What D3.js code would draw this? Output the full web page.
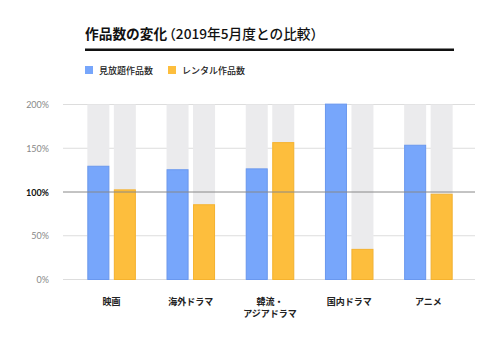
<!DOCTYPE html>
<html>
<head>
<meta charset="utf-8">
<script src="https://cdn.jsdelivr.net/npm/d3@7"></script>
<style>
  body { margin: 0; background: #fff; }
  svg { display: block; font-family: "Noto Sans CJK JP", "Noto Sans", sans-serif; }
</style>
</head>
<body>
<svg id="chart" width="500" height="344"></svg>
<script>
// --- data ---
const categories = ['映画', '海外ドラマ', '韓流・\nアジアドラマ', '国内ドラマ', 'アニメ'];
const seriesNames = ['見放題作品数', 'レンタル作品数'];
const unlimitedValues = [130, 126, 127, 201, 154];
const rentalValues = [103, 86, 157, 35, 98];
const yTicks = [0, 50, 100, 150, 200];
const colors = ['#77a6fb', '#fdbe3d'];
const strokes = ['#6a98ee', '#f5b22e'];

const svg = d3.select('#chart');

// scales
const x = d3.scaleBand().domain(categories).range([72, 468]);
const y = d3.scaleLinear().domain([0, 200]).range([279.5, 104.5]);
const barW = 22, gap = 4.5;

// title
const title = svg.append('text')
  .attr('x', 85).attr('y', 38.5)
  .attr('font-size', 13.7).attr('fill', '#111');
title.append('tspan').attr('font-weight', 700).text('作品数の変化');
title.append('tspan').attr('font-weight', 500).attr('dx', -5).text('（2019年5月度との比較）');

svg.append('rect')
  .attr('x', 85).attr('y', 48.5).attr('width', 369).attr('height', 2.5)
  .attr('fill', '#111');

// legend
const legend = svg.append('g');
[85, 168].forEach((lx, i) => {
  legend.append('rect')
    .attr('x', lx).attr('y', 66).attr('width', 8).attr('height', 8)
    .attr('fill', colors[i]);
  legend.append('text')
    .attr('x', lx + 14).attr('y', 73.5)
    .attr('font-size', 9).attr('font-weight', 500).attr('fill', '#222')
    .text(seriesNames[i]);
});

// gridlines + y labels
const grid = svg.append('g');
yTicks.forEach(t => {
  if (t === 100) return;
  grid.append('line')
    .attr('x1', 63).attr('x2', 475)
    .attr('y1', y(t)).attr('y2', y(t))
    .attr('stroke', '#ddd').attr('stroke-width', 1);
});
svg.append('g').selectAll('text').data(yTicks).join('text')
  .attr('x', 49).attr('y', d => y(d) + 3.5)
  .attr('text-anchor', 'end')
  .attr('font-size', 9)
  .attr('font-family', 'Lato, "Noto Sans", sans-serif')
  .attr('font-weight', d => d === 100 ? 700 : 400)
  .attr('fill', d => d === 100 ? '#111' : '#888')
  .text(d => d + '%');

// bars
const rows = categories.map((c, i) => ({ cat: c, vals: [unlimitedValues[i], rentalValues[i]] }));
const groups = svg.append('g').selectAll('g').data(rows).join('g')
  .attr('transform', d => `translate(${x(d.cat) + x.bandwidth() / 2},0)`);

[0, 1].forEach(s => {
  const bx = s === 0 ? -barW - gap / 2 : gap / 2;
  groups.append('rect')
    .attr('x', bx).attr('width', barW)
    .attr('y', y(200)).attr('height', y(0) - y(200))
    .attr('fill', '#ebebed');
  groups.append('rect')
    .attr('x', bx + 0.5).attr('width', barW - 1)
    .attr('y', d => y(d.vals[s]) + 0.5)
    .attr('height', d => y(0) - y(d.vals[s]) - 0.5)
    .attr('fill', colors[s])
    .attr('stroke', strokes[s]).attr('stroke-width', 1);
});

// 100% line over the bars
svg.append('line')
  .attr('x1', 63).attr('x2', 475)
  .attr('y1', y(100)).attr('y2', y(100))
  .attr('stroke', '#888').attr('stroke-width', 1);

// x labels
groups.append('text')
  .attr('text-anchor', 'middle')
  .attr('font-size', 9).attr('font-weight', 700).attr('fill', '#222')
  .selectAll('tspan').data(d => d.cat.split('\n')).join('tspan')
  .attr('x', 0)
  .attr('y', (d, i) => 305 + i * 12)
  .text(d => d);
</script>
</body>
</html>
